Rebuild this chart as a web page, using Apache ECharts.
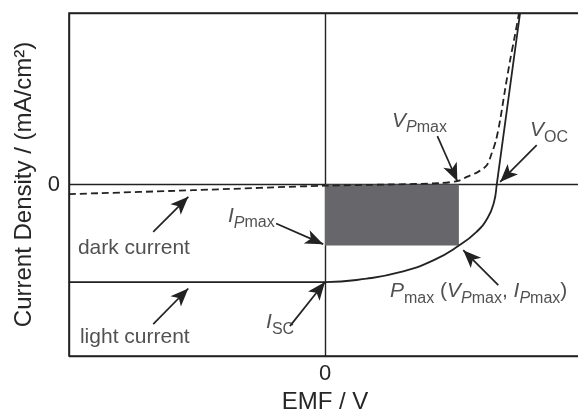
<!DOCTYPE html>
<html>
<head>
<meta charset="utf-8">
<script src="https://cdn.jsdelivr.net/npm/echarts@6/dist/echarts.min.js"></script>
<style>html,body{margin:0;padding:0;background:#fff;}#c{width:578px;height:409px;}</style>
</head>
<body>
<div id="c"></div>
<script>
// ---- data (axis units: EMF arbitrary, current density arbitrary) ----
const xRange = [-1, 1];
const yRange = [-1.74, 1.74];
const VPmax = 0.523;
const IPmax = -0.62;
const ISC = -0.99;
const VOC = 0.671;

const lightX = [-1, 0, 0.163, 0.293, 0.423, 0.523, 0.592, 0.635, 0.66, 0.671, 0.762];
const lightY = [ISC, ISC, -0.955, -0.89, -0.77, IPmax, -0.48, -0.34, -0.18, 0, 1.74];

const darkX = [-1, -0.516, 0, 0.25, 0.45, 0.52, 0.554, 0.598, 0.632, 0.651, 0.668, 0.684, 0.703, 0.723, 0.742, 0.758];
const darkY = [-0.098, -0.058, -0.012, 0.0, 0.014, 0.037, 0.077, 0.128, 0.196, 0.314, 0.449, 0.652, 0.956, 1.26, 1.514, 1.74];

// arrows: tail -> tip
const arrowTails = [[0.439, 0.49], [0.827, 0.399], [-0.191, -0.395], [-0.671, -0.48], [-0.671, -1.417], [-0.137, -1.437], [0.677, -1.021]];
const arrowTips  = [[0.517, 0.033], [0.684, 0.026], [-0.007, -0.605], [-0.534, -0.125], [-0.534, -1.055], [0, ISC], [0.540, -0.666]];

// annotation texts (rich text markup) and anchor (left, middle)
const labelTexts = [
  '{m|V}{si|P}{s|max}',
  '{m|V}{s|OC}',
  '{m|I}{si|P}{s|max}',
  '{n|dark current}',
  '{n|light current}',
  '{m|I}{s|SC}',
  '{m|P}{s|max}{n| (}{m|V}{si|P}{s|max}{n|, }{m|I}{si|P}{s|max}{n|)}'
];
const labelPos = [[0.262, 0.647], [0.801, 0.551], [-0.379, -0.321], [-0.965, -0.651], [-0.957, -1.549], [-0.230, -1.397], [0.254, -1.082]];

const xTickLabels = ['0'];
const yTickLabels = ['0'];

const FONT = '"Liberation Sans", Arial, Helvetica, sans-serif';
const INK = '#222';
const TXT = '#262626';

const chart = echarts.init(document.getElementById('c'), null, {renderer: 'canvas'});

const zip = (a, b) => a.map((v, i) => [v, b[i]]);

const rich = {
  m: {fontSize: 21, fontStyle: 'italic', lineHeight: 30, fontFamily: FONT, color: TXT},
  n: {fontSize: 21, lineHeight: 30, fontFamily: FONT, color: TXT},
  si: {fontSize: 16, fontStyle: 'italic', lineHeight: 16, padding: [14, 0, 0, 0], fontFamily: FONT, color: TXT},
  s: {fontSize: 16, lineHeight: 16, padding: [14, 0, 0, 0], fontFamily: FONT, color: TXT}
};

const option = {
  animation: false,
  backgroundColor: '#fff',
  grid: {left: 69, top: 13, width: 512, height: 343, outerBoundsMode: 'none', containLabel: false,
         show: true, borderColor: INK, borderWidth: 1.6, backgroundColor: 'transparent'},
  xAxis: {
    type: 'value', min: xRange[0], max: xRange[1], interval: 1,
    axisLine: {show: false}, axisTick: {show: false},
    splitLine: {show: true, lineStyle: {color: INK, width: 1.4}},
    axisLabel: {
      margin: 7, fontSize: 22, color: TXT, fontFamily: FONT,
      formatter: v => (Math.abs(v) < 1e-9 ? xTickLabels[0] : '')
    },
    name: 'EMF / V', nameLocation: 'middle', nameGap: 29,
    nameTextStyle: {fontSize: 24, color: TXT, fontFamily: FONT}
  },
  yAxis: {
    type: 'value', min: yRange[0], max: yRange[1], interval: 1.74,
    axisLine: {show: false}, axisTick: {show: false},
    splitLine: {show: true, lineStyle: {color: INK, width: 1.4}},
    axisLabel: {
      margin: 9, fontSize: 22, color: TXT, fontFamily: FONT,
      formatter: v => (Math.abs(v) < 1e-9 ? yTickLabels[0] : '')
    },
    name: 'Current Density / (mA/cm²)', nameLocation: 'middle', nameGap: 32,
    nameTextStyle: {fontSize: 24, color: TXT, fontFamily: FONT}
  },
  series: [
    {
      type: 'line', name: 'light current', data: zip(lightX, lightY),
      showSymbol: false, symbol: 'none', smooth: 0.5,
      lineStyle: {color: INK, width: 1.8}, silent: true, z: 3,
      markArea: {
        silent: true,
        itemStyle: {color: '#67676b'},
        data: [[{coord: [0, IPmax]}, {coord: [VPmax, 0]}]]
      }
    },
    {
      type: 'line', name: 'dark current', data: zip(darkX, darkY),
      showSymbol: false, symbol: 'none', smooth: 0.3,
      lineStyle: {color: INK, width: 1.8, type: [7, 4]}, silent: true, z: 4,
      markLine: {
        silent: true, animation: false,
        symbol: ['none', 'arrow'], symbolSize: [11, 18],
        lineStyle: {color: INK, width: 1.7, type: 'solid'},
        label: {show: false},
        data: arrowTails.map((t, i) => [{coord: t}, {coord: arrowTips[i]}])
      }
    },
    {
      type: 'scatter', name: 'labels', symbolSize: 0.1,
      itemStyle: {color: 'rgba(0,0,0,0)'}, silent: true, z: 5,
      data: labelPos.map((p, i) => ({
        value: p,
        label: {
          show: true, position: [0, 0], align: 'left', verticalAlign: 'middle',
          formatter: labelTexts[i], rich: rich, fontFamily: FONT, color: TXT
        }
      }))
    }
  ]
};
chart.setOption(option);
</script>
</body>
</html>
